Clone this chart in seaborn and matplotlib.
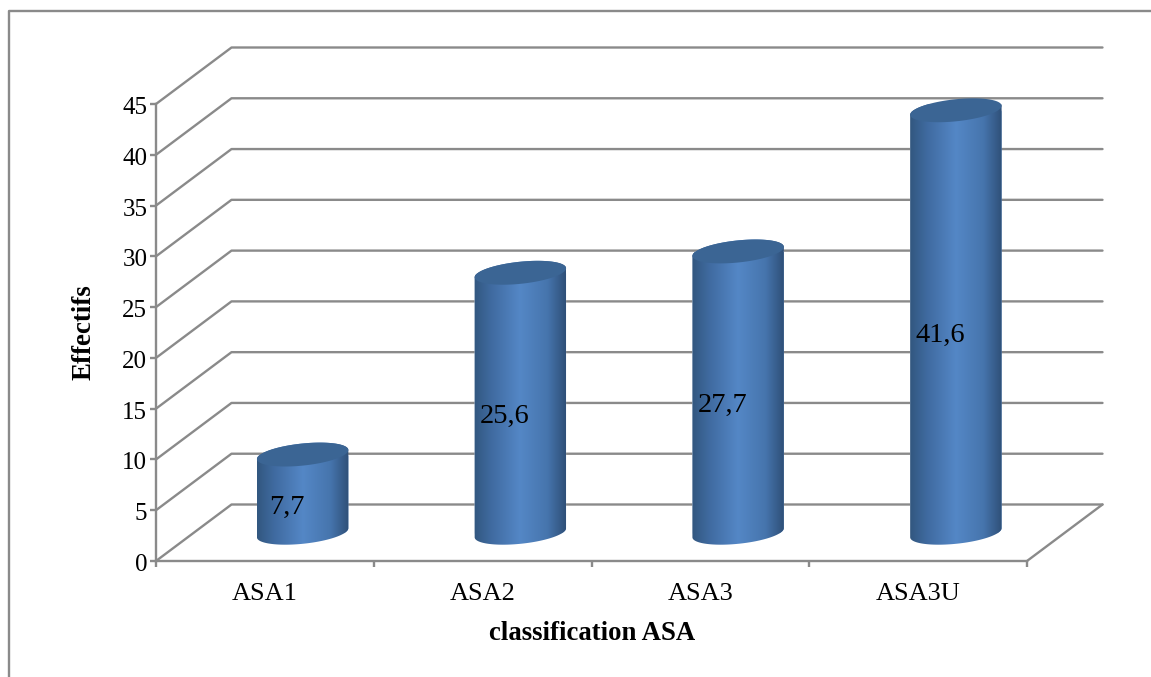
import numpy as np
import matplotlib
matplotlib.use("Agg")
import matplotlib.pyplot as plt
from matplotlib.colors import LinearSegmentedColormap
from matplotlib.lines import Line2D
from matplotlib.path import Path
from matplotlib.patches import PathPatch
from matplotlib.transforms import Affine2D
import seaborn as sns

categories = ["ASA1", "ASA2", "ASA3", "ASA3U"]
values = [7.7, 25.6, 27.7, 41.6]
y_ticks = list(range(0, 50, 5))
x_label = "classification ASA"
y_label = "Effectifs"

W, H, DPI = 1151, 677, 100
GRID = "#8A8A8A"
CAP = "#3B6594"
SHADE = [(0.0, "#32577F"), (0.18, "#3F6A9F"), (0.5, "#5487C6"),
         (0.8, "#4675AD"), (1.0, "#2F5078")]

sns.set_theme(style="ticks")
plt.rcParams["font.family"] = ["Liberation Serif", "DejaVu Serif"]

fig = plt.figure(figsize=(W / DPI, H / DPI), dpi=DPI, facecolor="white")
left, right, top, bottom = 156, 1027, 104, 561
ax = fig.add_axes([left / W, 1 - bottom / H, (right - left) / W, (bottom - top) / H])
ax.patch.set_visible(False)

sns.barplot(x=categories, y=values, ax=ax, width=0.422, color=SHADE[2][1],
            saturation=1, zorder=3)
ax.set_xlim(-0.5, 3.5)
ax.set_ylim(0, 45)

# Pseudo-3D wall: depth expressed in data units of each axis
depth_x = 75.5 / ((right - left) / 4)
depth_y = 56.5 / ((bottom - top) / 45)
line_kw = dict(color=GRID, lw=1.7, clip_on=False, zorder=1, solid_capstyle="round")
for v in y_ticks:
    ax.plot([-0.5, -0.5 + depth_x, 3.5 + depth_x],
            [v, v + depth_y, v + depth_y], **line_kw)
ax.plot([3.5, 3.5 + depth_x], [0, depth_y], **line_kw)

# Axis styling
for name in ("top", "right"):
    ax.spines[name].set_visible(False)
for name in ("left", "bottom"):
    ax.spines[name].set_color(GRID)
    ax.spines[name].set_linewidth(1.7)
ax.set_yticks(y_ticks)
ax.set_xticks(np.arange(-0.5, 4, 1), minor=False)
ax.set_xticklabels([])
ax.tick_params(axis="both", color=GRID, width=1.7, length=4.5, labelsize=18,
               labelcolor="black")
ax.tick_params(axis="y", pad=1.8)
for label in ax.get_yticklabels():
    label.set_transform(label.get_transform() + Affine2D().translate(0, -1.5))
for i, name in enumerate(categories):
    ax.annotate(name, xy=(i, 0), xytext=(0, -16), textcoords="offset points",
                ha="center", va="top", fontsize=19, color="black")
ax.set_xlabel("")
ax.set_ylabel("")
fig.text(592 / W, 1 - 633 / H, x_label, ha="center", va="center",
         fontsize=19.3, fontweight="bold", color="black")
fig.text(84 / W, 1 - 332 / H, y_label, ha="center", va="center", rotation=90,
         fontsize=19.4, fontweight="bold", color="black")


def half_ellipse(center, a, b, phi, start):
    """Half of a tilted ellipse, in pixels, from one horizontal extreme to the other."""
    t0 = np.arctan2(-b * np.sin(phi), a * np.cos(phi)) + start
    t = np.linspace(t0, t0 + np.pi, 60)
    x = a * np.cos(t) * np.cos(phi) - b * np.sin(t) * np.sin(phi)
    y = a * np.cos(t) * np.sin(phi) + b * np.sin(t) * np.cos(phi)
    return np.column_stack([x + center[0], y + center[1]])


# Cylinders sit halfway along the depth of the floor
mid_plane = Affine2D().translate(75.5 / 2, 56.5 / 2)
to_pixels = ax.transData + mid_plane
cmap = LinearSegmentedColormap.from_list("cylinder", SHADE)
ramp = np.linspace(0, 1, 256)[None, :]
tilt = np.radians(6)
for bar, value in zip(ax.patches, values):
    x0, w = bar.get_x(), bar.get_width()
    xc = x0 + w / 2
    base = to_pixels.transform((xc, 0))
    crown = to_pixels.transform((xc, value))
    a = (to_pixels.transform((x0 + w, 0))[0] - to_pixels.transform((x0, 0))[0]) / 2
    b = 11

    lower = half_ellipse(base, a, b, tilt, np.pi)
    upper = half_ellipse(crown, a, b, tilt, 0)
    outline = np.vstack([lower, upper, lower[:1]])
    body = PathPatch(Path(outline), transform=None, fc="none", ec="none")
    fig.add_artist(body)

    bar.set_transform(to_pixels)
    bar.set_clip_path(body)

    image = ax.imshow(ramp, cmap=cmap, aspect="auto", zorder=3.5,
                      extent=(x0, x0 + w, -5, value + 5), interpolation="bilinear")
    image.set_transform(to_pixels)
    image.set_clip_path(body)

    cap = np.vstack([upper, half_ellipse(crown, a, b, tilt, np.pi)])
    fig.add_artist(PathPatch(Path(cap), transform=None, fc=CAP, ec="none", zorder=4))

ax.set_xlim(-0.5, 3.5)
ax.set_ylim(0, 45)

# Value labels
for i, value in enumerate(values):
    ax.annotate(f"{value:.1f}".replace(".", ","), xy=(i, value / 2),
                xytext=(22 * 72 / DPI, 14.5 * 72 / DPI), textcoords="offset points",
                ha="center", va="center", fontsize=20.5, color="black", zorder=6)

# Outer chart frame, open towards the right and bottom edges
fig.add_artist(Line2D([9 / W, 9 / W, 1], [0, 1 - 11 / H, 1 - 11 / H],
                      transform=fig.transFigure, color=GRID, lw=1.7))

fig.savefig("out.png", dpi=DPI, facecolor="white")
